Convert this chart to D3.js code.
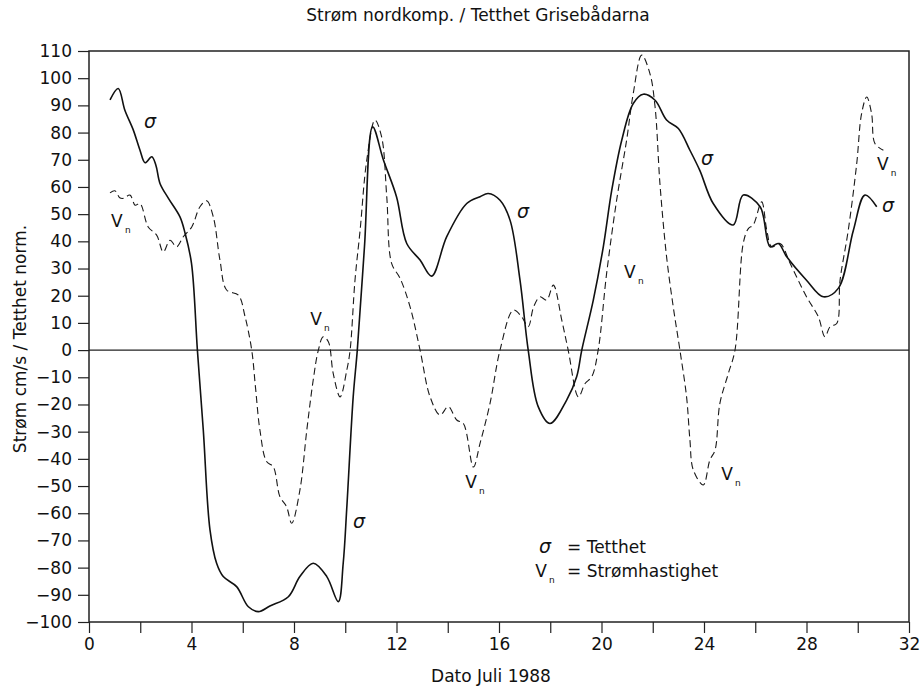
<!DOCTYPE html>
<html>
<head>
<meta charset="utf-8">
<script src="https://cdn.jsdelivr.net/npm/d3@7/dist/d3.min.js"></script>
<style>
  body { margin: 0; background: #fff; }
  text { font-family: "DejaVu Sans", sans-serif; fill: #111; }
</style>
</head>
<body>
<script>
// sigma (tetthet, solid) - day of July / normalised value
var sigmaDays = [0.82, 1.14, 1.40, 1.73, 1.99, 2.19, 2.45, 2.61, 2.77, 3.1, 3.55, 3.75, 4.0, 4.23, 4.46, 4.72, 4.98, 5.24, 5.76, 6.22, 6.61, 7.06, 7.78, 8.23, 8.75, 9.28, 9.73, 9.92, 10.06, 10.31, 10.47, 10.75, 11.07, 11.49, 12.0, 12.4, 12.92, 13.37, 13.96, 14.74, 15.26, 15.58, 16.04, 16.43, 16.82, 17.14, 17.53, 17.99, 18.64, 19.03, 19.23, 19.68, 20.07, 20.4, 20.79, 21.24, 21.63, 22.09, 22.54, 23.0, 23.45, 23.84, 24.36, 25.14, 25.53, 26.19, 26.58, 26.9, 27.23, 28.0, 28.66, 29.24, 29.83, 30.28, 30.74];
var sigmaVals = [92, 96.2, 88.2, 80.9, 73.5, 68.9, 71.1, 68, 61.3, 55.8, 49, 43, 31.9, 0, -29.4, -66, -78.4, -83.3, -87, -94.4, -96.2, -94.1, -90.7, -83.3, -78.4, -83.3, -92.5, -78.4, -58, -17.2, 0, 38, 82.1, 69.9, 56.4, 39.2, 33.1, 27.2, 41.7, 53.9, 56.4, 57.6, 55.1, 47.8, 25.7, 0, -20.8, -27, -18.4, -9.8, 0, 18.4, 38, 58.8, 77.2, 90.7, 94.1, 91.9, 84.6, 81.5, 73.5, 66, 53.9, 46, 57, 52.7, 38, 39.2, 34.3, 25.7, 19.6, 22.7, 44.1, 57, 52.7];

// Vn (stromhastighet, dashed) - cm/s
var vnDays = [0.82, 1.01, 1.2, 1.34, 1.6, 1.8, 1.99, 2.31, 2.64, 2.9, 3.16, 3.42, 3.68, 4.01, 4.33, 4.59, 4.85, 5.11, 5.37, 5.83, 6.09, 6.35, 6.5, 6.67, 6.93, 7.19, 7.45, 7.71, 7.91, 8.23, 8.5, 8.75, 8.95, 9.14, 9.34, 9.53, 9.8, 10.06, 10.19, 10.38, 10.58, 10.84, 11.16, 11.42, 11.62, 11.81, 12.14, 12.53, 12.92, 13.31, 13.7, 14.02, 14.35, 14.61, 15.0, 15.26, 15.65, 16.04, 16.56, 16.88, 17.14, 17.35, 17.6, 17.86, 18.12, 18.45, 18.7, 19.1, 19.36, 19.62, 19.87, 20.2, 20.59, 20.98, 21.24, 21.57, 21.89, 22.09, 22.28, 22.54, 22.8, 23.06, 23.32, 23.45, 23.58, 23.97, 24.23, 24.43, 24.62, 24.95, 25.21, 25.53, 25.73, 25.92, 26.25, 26.45, 26.64, 26.97, 27.36, 28.0, 28.46, 28.72, 28.92, 29.18, 29.31, 29.63, 29.96, 30.15, 30.35, 30.54, 30.67, 31.0];
var vnVals = [57.8, 58.6, 56, 55.8, 57, 53.3, 53.9, 45.3, 42.3, 36.1, 40.4, 38, 41.7, 45.3, 52.7, 54.9, 49, 33.1, 22.1, 20.2, 12.3, 0, -14, -29.4, -41, -42.9, -53.9, -57.6, -63.7, -51.5, -29.4, -11, 0, 4.9, 3.1, -8.6, -17.2, -7.4, 0, 25.7, 44.1, 69.9, 84.6, 78.4, 56.4, 31.9, 26.4, 15.9, 0, -17.2, -23.9, -20.8, -25.7, -27, -43, -34.3, -19.6, 0, 14.7, 12.3, 8.6, 15.9, 19.6, 18.4, 23.9, 11, 0, -17.2, -12.3, -9.8, 0, 28.2, 55.1, 77.2, 94.4, 108.5, 101.7, 89.5, 61.3, 34.3, 15.9, 0, -17.2, -33, -44, -49.6, -40.4, -36.8, -19.6, -8.6, 0, 39.2, 44.7, 46, 54.5, 44.1, 38, 39.2, 31.9, 19.6, 12.3, 4.9, 8.6, 9.8, 25.7, 44.1, 68.6, 87, 93.1, 87, 76, 73.5];

var yTicks = d3.range(-100, 111, 10);
var xTicks = d3.range(0, 33, 2);

// curve labels (day, value at text baseline)
var sigmaLabelDays = [2.38, 16.94, 24.12, 31.18, 10.54];
var sigmaLabelVals = [81.6, 48.5, 68, 50.7, -65.4];
var vnLabelDays = [1.09, 8.86, 21.11, 30.98, 14.91, 24.9];
var vnLabelVals = [45.2, 9.2, 26.5, 66.2, -50.7, -47.8];

var width = 922, height = 689;
var margin = {top: 51, right: 13, bottom: 67, left: 89};

var svg = d3.select("body")
    .append("svg")
    .attr("width", width)
    .attr("height", height);

var x = d3.scaleLinear()
    .domain([0, 32])
    .range([margin.left, width - margin.right]);

var y = d3.scaleLinear()
    .domain([-100, 110])
    .range([height - margin.bottom, margin.top]);

// axes
var yAxis = d3.axisLeft(y)
    .tickValues(yTicks)
    .tickSize(11)
    .tickPadding(6);

var xAxis = d3.axisBottom(x)
    .tickValues(xTicks)
    .tickSize(11)
    .tickPadding(5)
    .tickFormat(function (d) { return d % 4 === 0 ? d : ""; });

svg.append("g")
    .attr("transform", "translate(" + margin.left + ",0)")
    .call(yAxis)
    .call(function (g) { g.select(".domain").remove(); })
    .selectAll("text")
    .style("font-size", "17px")
    .style("font-family", "DejaVu Sans");

svg.append("g")
    .attr("transform", "translate(0," + (height - margin.bottom) + ")")
    .call(xAxis)
    .call(function (g) { g.select(".domain").remove(); })
    .selectAll("text")
    .style("font-size", "17px")
    .style("font-family", "DejaVu Sans");

svg.selectAll(".tick line")
    .attr("stroke", "#222")
    .attr("stroke-width", 1.2);

// frame
svg.append("rect")
    .attr("x", x(0))
    .attr("y", y(110))
    .attr("width", x(32) - x(0))
    .attr("height", y(-100) - y(110))
    .attr("fill", "none")
    .attr("stroke", "#222")
    .attr("stroke-width", 1.5);

// zero line
svg.append("line")
    .attr("x1", x(0))
    .attr("x2", x(32))
    .attr("y1", y(0))
    .attr("y2", y(0))
    .attr("stroke", "#222")
    .attr("stroke-width", 1.2);

var line = d3.line()
    .x(function (d) { return x(d[0]); })
    .y(function (d) { return y(d[1]); })
    .curve(d3.curveCatmullRom.alpha(0.5));

svg.append("path")
    .datum(d3.zip(vnDays, vnVals))
    .attr("d", line)
    .attr("fill", "none")
    .attr("stroke", "#1a1a1a")
    .attr("stroke-width", 1.1)
    .attr("stroke-dasharray", "7,4");

svg.append("path")
    .datum(d3.zip(sigmaDays, sigmaVals))
    .attr("d", line)
    .attr("fill", "none")
    .attr("stroke", "#111")
    .attr("stroke-width", 1.6);

// labels on the curves
function sigmaText(g, px, py) {
    g.append("text")
        .attr("x", px)
        .attr("y", py)
        .attr("text-anchor", "middle")
        .style("font-size", "19px")
        .style("font-style", "italic")
        .text("σ");
}

function vnText(g, px, py) {
    var t = g.append("text")
        .attr("x", px)
        .attr("y", py)
        .attr("text-anchor", "middle")
        .style("font-size", "17px")
        .text("V");
    g.append("text")
        .attr("x", px + 8)
        .attr("y", py + 6)
        .style("font-size", "9px")
        .text("n");
}

var labels = svg.append("g");
sigmaLabelDays.forEach(function (d, i) {
    sigmaText(labels, x(d), y(sigmaLabelVals[i]));
});
vnLabelDays.forEach(function (d, i) {
    vnText(labels, x(d), y(vnLabelVals[i]));
});

// legend
var legend = svg.append("g");
sigmaText(legend, 545, 553);
legend.append("text")
    .attr("x", 567)
    .attr("y", 553)
    .style("font-size", "17px")
    .text("= Tetthet");
vnText(legend, 541, 577);
legend.append("text")
    .attr("x", 567)
    .attr("y", 577)
    .style("font-size", "17px")
    .text("= Strømhastighet");

// titles
svg.append("text")
    .attr("x", 478)
    .attr("y", 21)
    .attr("text-anchor", "middle")
    .style("font-size", "17px")
    .text("Strøm nordkomp. / Tetthet Grisebådarna");

svg.append("text")
    .attr("x", 491)
    .attr("y", 682)
    .attr("text-anchor", "middle")
    .style("font-size", "17px")
    .text("Dato Juli 1988");

svg.append("text")
    .attr("transform", "translate(26,339) rotate(-90)")
    .attr("text-anchor", "middle")
    .style("font-size", "17px")
    .text("Strøm cm/s / Tetthet norm.");
</script>
</body>
</html>
